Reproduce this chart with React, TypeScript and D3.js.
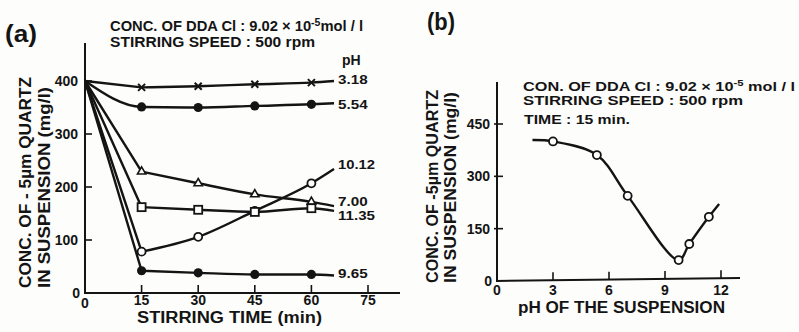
import React from 'react';
import * as d3 from 'd3';

// panel (a): concentration vs stirring time, one series per pH
const timeTicks = [15, 30, 45, 60, 75];
const concTicksA = [0, 100, 200, 300, 400];
const times = [0, 15, 30, 45, 60, 66];
const seriesA = [
  { ph: '3.18', marker: 'cross', values: [400, 388, 390, 394, 397, 400] },
  { ph: '5.54', marker: 'dot', values: [400, 351, 350, 353, 356, 358] },
  { ph: '10.12', marker: 'circle', values: [400, 78, 106, 155, 207, 234] },
  { ph: '7.00', marker: 'triangle', values: [400, 229, 207, 186, 172, 164] },
  { ph: '11.35', marker: 'square', values: [400, 162, 157, 153, 160, 155] },
  { ph: '9.65', marker: 'dot', values: [400, 42, 38, 35, 35, 33] },
];
// where the pH names sit at the line ends (data units)
const labelValues = [404, 357, 243, 174, 148, 38];

// panel (b): concentration vs pH after 15 min
const phTicks = [0, 3, 6, 9, 12];
const concTicksB = [0, 150, 300, 450];
const phPoints = [3.0, 5.35, 7.0, 9.73, 10.3, 11.35];
const concPoints = [400, 361, 244, 60, 106, 184];
const phCurve = [1.9, 3.0, 5.35, 7.0, 9.73, 10.3, 11.35, 11.9];
const concCurve = [404, 400, 361, 244, 60, 106, 184, 221];

const ink = '#141414';
const font = "'Liberation Sans', Arial, sans-serif";

const xA = d3.scaleLinear().domain([0, 75]).range([85, 368]);
const yA = d3.scaleLinear().domain([0, 400]).range([293, 81]);
const xB = d3.scaleLinear().domain([0, 12]).range([497, 721]);
const yB = d3.scaleLinear().domain([0, 450]).range([281, 124]);

function Marker({ type, x, y }: { type: string; x: number; y: number }) {
  const sw = 1.8;
  if (type === 'cross') {
    const s = 3.5;
    return (
      <path d={`M${x - s},${y - s}L${x + s},${y + s}M${x - s},${y + s}L${x + s},${y - s}`} stroke={ink} strokeWidth={2} />
    );
  }
  if (type === 'dot') return <circle cx={x} cy={y} r={4.6} fill={ink} />;
  if (type === 'circle') return <circle cx={x} cy={y} r={4} fill="#fff" stroke={ink} strokeWidth={sw} />;
  if (type === 'square') return <rect x={x - 4} y={y - 4} width={8} height={8} fill="#fff" stroke={ink} strokeWidth={sw} />;
  const s = d3.symbol().type(d3.symbolTriangle).size(30)();
  return <path d={s || ''} transform={`translate(${x},${y})`} fill="#fff" stroke={ink} strokeWidth={1.6} />;
}

export default function App() {
  // straight drop from t=0 to the first sample, smooth afterwards
  const smoothA = d3
    .line<number>()
    .x((_, i) => xA(times[i + 1]))
    .y((d) => yA(d))
    .curve(d3.curveMonotoneX);
  const firstA = (v: number[]) => `M${xA(times[0])},${yA(v[0])}L${xA(times[1])},${yA(v[1])}`;
  const bent = d3
    .line<number>()
    .x((_, i) => xA(times[i]))
    .y((d) => yA(d))
    .curve(d3.curveMonotoneX);
  const lineB = d3
    .line<number>()
    .x((_, i) => xB(phCurve[i]))
    .y((d) => yB(d))
    .curve(d3.curveCatmullRom.alpha(0.5));

  return (
    <svg width={799} height={332} style={{ position: 'absolute', left: 0, top: 0, background: '#fdfdfb' }} fontFamily={font} fill={ink}>
      {/* ---------- panel (a) ---------- */}
      <text x={5} y={42} fontSize={24} fontWeight={700} textLength={32} lengthAdjust="spacingAndGlyphs">(a)</text>
      <text x={110} y={31} fontSize={14} fontWeight={700} textLength={253} lengthAdjust="spacingAndGlyphs">
        CONC. OF DDA Cl : 9.02 × 10<tspan dy={-5} fontSize={10}>-5</tspan><tspan dy={5}>mol / l</tspan>
      </text>
      <text x={110} y={47} fontSize={14} fontWeight={700} textLength={205} lengthAdjust="spacingAndGlyphs">
        STIRRING SPEED : 500 rpm
      </text>

      <line x1={85} y1={43} x2={85} y2={294} stroke={ink} strokeWidth={2} />
      <line x1={84} y1={293} x2={400} y2={293} stroke={ink} strokeWidth={2} />
      {concTicksA.map((t) => (
        <g key={t}>
          {t > 0 && <line x1={85} x2={92} y1={yA(t)} y2={yA(t)} stroke={ink} strokeWidth={1.6} />}
          <text x={t === 0 ? 80 : 78} y={yA(t) + 5} fontSize={14} fontWeight={700} textAnchor="end">{t}</text>
        </g>
      ))}
      <text x={85} y={308} fontSize={14} fontWeight={700} textAnchor="middle">0</text>
      {timeTicks.map((t) => (
        <g key={t}>
          <line x1={xA(t)} x2={xA(t)} y1={293} y2={285} stroke={ink} strokeWidth={1.6} />
          <text x={xA(t)} y={305} fontSize={14} fontWeight={700} textAnchor="middle">{t}</text>
        </g>
      ))}
      <text x={137} y={323} fontSize={16} fontWeight={700} textLength={185} lengthAdjust="spacingAndGlyphs">
        STIRRING TIME (min)
      </text>
      <text transform="translate(31,288) rotate(-90)" fontSize={17} fontWeight={700} textLength={211} lengthAdjust="spacingAndGlyphs">
        CONC. OF - 5µm QUARTZ
      </text>
      <text transform="translate(50,288) rotate(-90)" fontSize={17} fontWeight={700} textLength={201} lengthAdjust="spacingAndGlyphs">
        IN SUSPENSION (mg/l)
      </text>

      {seriesA.map((s) => (
        <path
          key={s.ph}
          d={s.ph === '5.54' ? bent(s.values) || '' : firstA(s.values) + (smoothA(s.values.slice(1)) || '')}
          fill="none"
          stroke={ink}
          strokeWidth={2.4}
        />
      ))}
      {seriesA.map((s) =>
        s.values.slice(1, 5).map((v, i) => <Marker key={s.ph + i} type={s.marker} x={xA(times[i + 1])} y={yA(v)} />)
      )}
      <text x={342} y={65} fontSize={14} fontWeight={700}>pH</text>
      {seriesA.map((s, i) => (
        <text key={s.ph} x={338} y={yA(labelValues[i]) + 5} fontSize={13} fontWeight={700} textLength={s.ph.length * 7.4} lengthAdjust="spacingAndGlyphs">
          {s.ph}
        </text>
      ))}

      {/* ---------- panel (b) ---------- */}
      <text x={427} y={30} fontSize={24} fontWeight={700} textLength={28} lengthAdjust="spacingAndGlyphs">(b)</text>
      <text x={523} y={91} fontSize={13} fontWeight={700} textLength={272} lengthAdjust="spacingAndGlyphs">
        CON. OF DDA Cl : 9.02 × 10<tspan dy={-5} fontSize={9}>-5</tspan><tspan dy={5}> mol / l</tspan>
      </text>
      <text x={523} y={105} fontSize={13} fontWeight={700} textLength={220} lengthAdjust="spacingAndGlyphs">
        STIRRING SPEED : 500 rpm
      </text>
      <text x={524} y={124} fontSize={13} fontWeight={700} textLength={106} lengthAdjust="spacingAndGlyphs">
        TIME : 15 min.
      </text>

      <line x1={497} y1={82} x2={497} y2={282} stroke={ink} strokeWidth={2} />
      <line x1={496} y1={281} x2={740} y2={278} stroke={ink} strokeWidth={2} />
      {concTicksB.map((t) => (
        <g key={t}>
          {t > 0 && <line x1={494} x2={503} y1={yB(t)} y2={yB(t)} stroke={ink} strokeWidth={1.6} />}
          <text x={t === 0 ? 492 : 490} y={yB(t) + 5} fontSize={14} fontWeight={700} textAnchor="end">{t}</text>
        </g>
      ))}
      {phTicks.map((t) => (
        <g key={t}>
          {t > 0 && <line x1={xB(t)} x2={xB(t)} y1={281 - t * 0.22} y2={273 - t * 0.22} stroke={ink} strokeWidth={1.6} />}
          <text x={xB(t)} y={295} fontSize={14} fontWeight={700} textAnchor="middle">{t}</text>
        </g>
      ))}
      <text x={518} y={313} fontSize={16} fontWeight={700} textLength={207} lengthAdjust="spacingAndGlyphs">
        pH OF THE SUSPENSION
      </text>
      <text transform="translate(438,283) rotate(-90)" fontSize={16} fontWeight={700} textLength={193} lengthAdjust="spacingAndGlyphs">
        CONC. OF -5µm QUARTZ
      </text>
      <text transform="translate(456,283) rotate(-90)" fontSize={16} fontWeight={700} textLength={191} lengthAdjust="spacingAndGlyphs">
        IN SUSPENSION (mg/l)
      </text>
      <path d={lineB(concCurve) || ''} fill="none" stroke={ink} strokeWidth={2.4} />
      {phPoints.map((p, i) => (
        <Marker key={p} type="circle" x={xB(p)} y={yB(concPoints[i])} />
      ))}
    </svg>
  );
}
